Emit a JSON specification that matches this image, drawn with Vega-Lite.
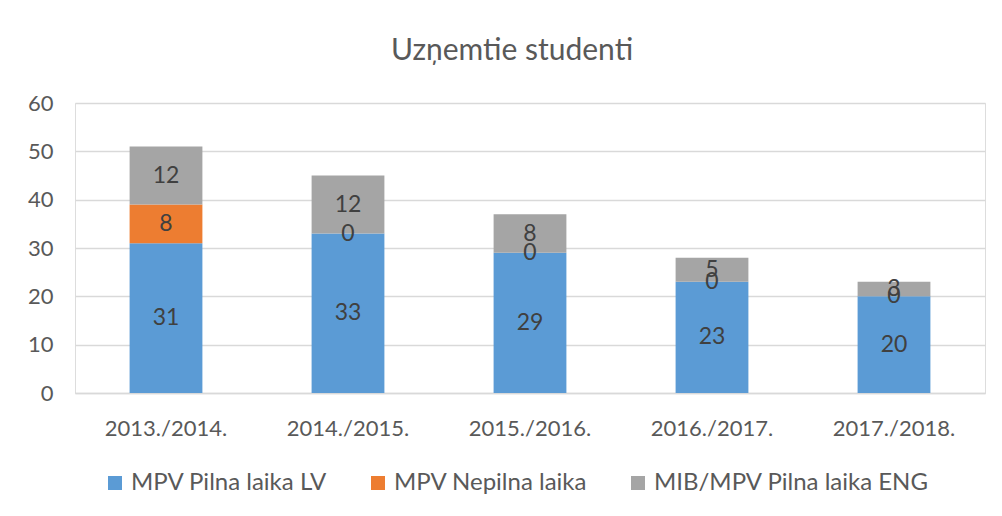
{
  "$schema": "https://vega.github.io/schema/vega-lite/v6.json",
  "width": 910,
  "height": 290,
  "autosize": {"type": "none"},
  "padding": {"left": 75, "top": 103, "right": 17, "bottom": 123},
  "background": "white",
  "title": {"text": "Uzņemtie studenti", "fontSize": 30, "font": "Lato", "fontWeight": "normal", "color": "#595959", "offset": 26, "anchor": "middle", "dx": -18},
  "data": {"values": [
    {"year": "2013./2014.", "series": "MPV Pilna laika LV", "value": 31},
    {"year": "2013./2014.", "series": "MPV Nepilna laika", "value": 8},
    {"year": "2013./2014.", "series": "MIB/MPV Pilna laika ENG", "value": 12},
    {"year": "2014./2015.", "series": "MPV Pilna laika LV", "value": 33},
    {"year": "2014./2015.", "series": "MPV Nepilna laika", "value": 0},
    {"year": "2014./2015.", "series": "MIB/MPV Pilna laika ENG", "value": 12},
    {"year": "2015./2016.", "series": "MPV Pilna laika LV", "value": 29},
    {"year": "2015./2016.", "series": "MPV Nepilna laika", "value": 0},
    {"year": "2015./2016.", "series": "MIB/MPV Pilna laika ENG", "value": 8},
    {"year": "2016./2017.", "series": "MPV Pilna laika LV", "value": 23},
    {"year": "2016./2017.", "series": "MPV Nepilna laika", "value": 0},
    {"year": "2016./2017.", "series": "MIB/MPV Pilna laika ENG", "value": 5},
    {"year": "2017./2018.", "series": "MPV Pilna laika LV", "value": 20},
    {"year": "2017./2018.", "series": "MPV Nepilna laika", "value": 0},
    {"year": "2017./2018.", "series": "MIB/MPV Pilna laika ENG", "value": 3}
  ]},
  "transform": [
    {"stack": "value", "groupby": ["year"], "sort": [{"field": "series", "order": "descending"}], "as": ["v0", "v1"]},
    {"calculate": "(datum.v0 + datum.v1) / 2", "as": "mid"}
  ],
  "encoding": {
    "x": {"field": "year", "type": "nominal", "title": null,
      "scale": {"paddingInner": 0.6, "paddingOuter": 0.3},
      "axis": {"labelAngle": 0, "ticks": false, "domainColor": "#D9D9D9", "domainWidth": 1.5, "labelFontSize": 22, "labelFont": "Lato", "labelColor": "#595959", "labelPadding": 25}}
  },
  "layer": [
    {
      "mark": {"type": "bar"},
      "encoding": {
        "y": {"field": "v0", "type": "quantitative", "title": null,
          "scale": {"domain": [0, 60]},
          "axis": {"values": [0, 10, 20, 30, 40, 50, 60], "domain": false, "ticks": false, "gridColor": "#D9D9D9", "gridWidth": 1.5, "labelFontSize": 22, "labelFont": "Lato", "labelColor": "#595959", "labelPadding": 22}},
        "y2": {"field": "v1"},
        "color": {"field": "series", "type": "nominal",
          "scale": {"domain": ["MPV Pilna laika LV", "MPV Nepilna laika", "MIB/MPV Pilna laika ENG"], "range": ["#5B9BD5", "#ED7D31", "#A5A5A5"]},
          "legend": {"title": null, "orient": "none", "legendX": 28, "legendY": 368, "direction": "horizontal", "symbolType": "square", "symbolSize": 196, "labelFontSize": 24, "labelFont": "Lato", "labelColor": "#595959", "labelLimit": 400, "columnPadding": 38}}
      }
    },
    {
      "mark": {"type": "text", "fontSize": 23, "font": "Lato", "color": "#404040", "baseline": "middle"},
      "encoding": {
        "y": {"field": "mid", "type": "quantitative"},
        "text": {"field": "value", "type": "quantitative"}
      }
    }
  ]
}
